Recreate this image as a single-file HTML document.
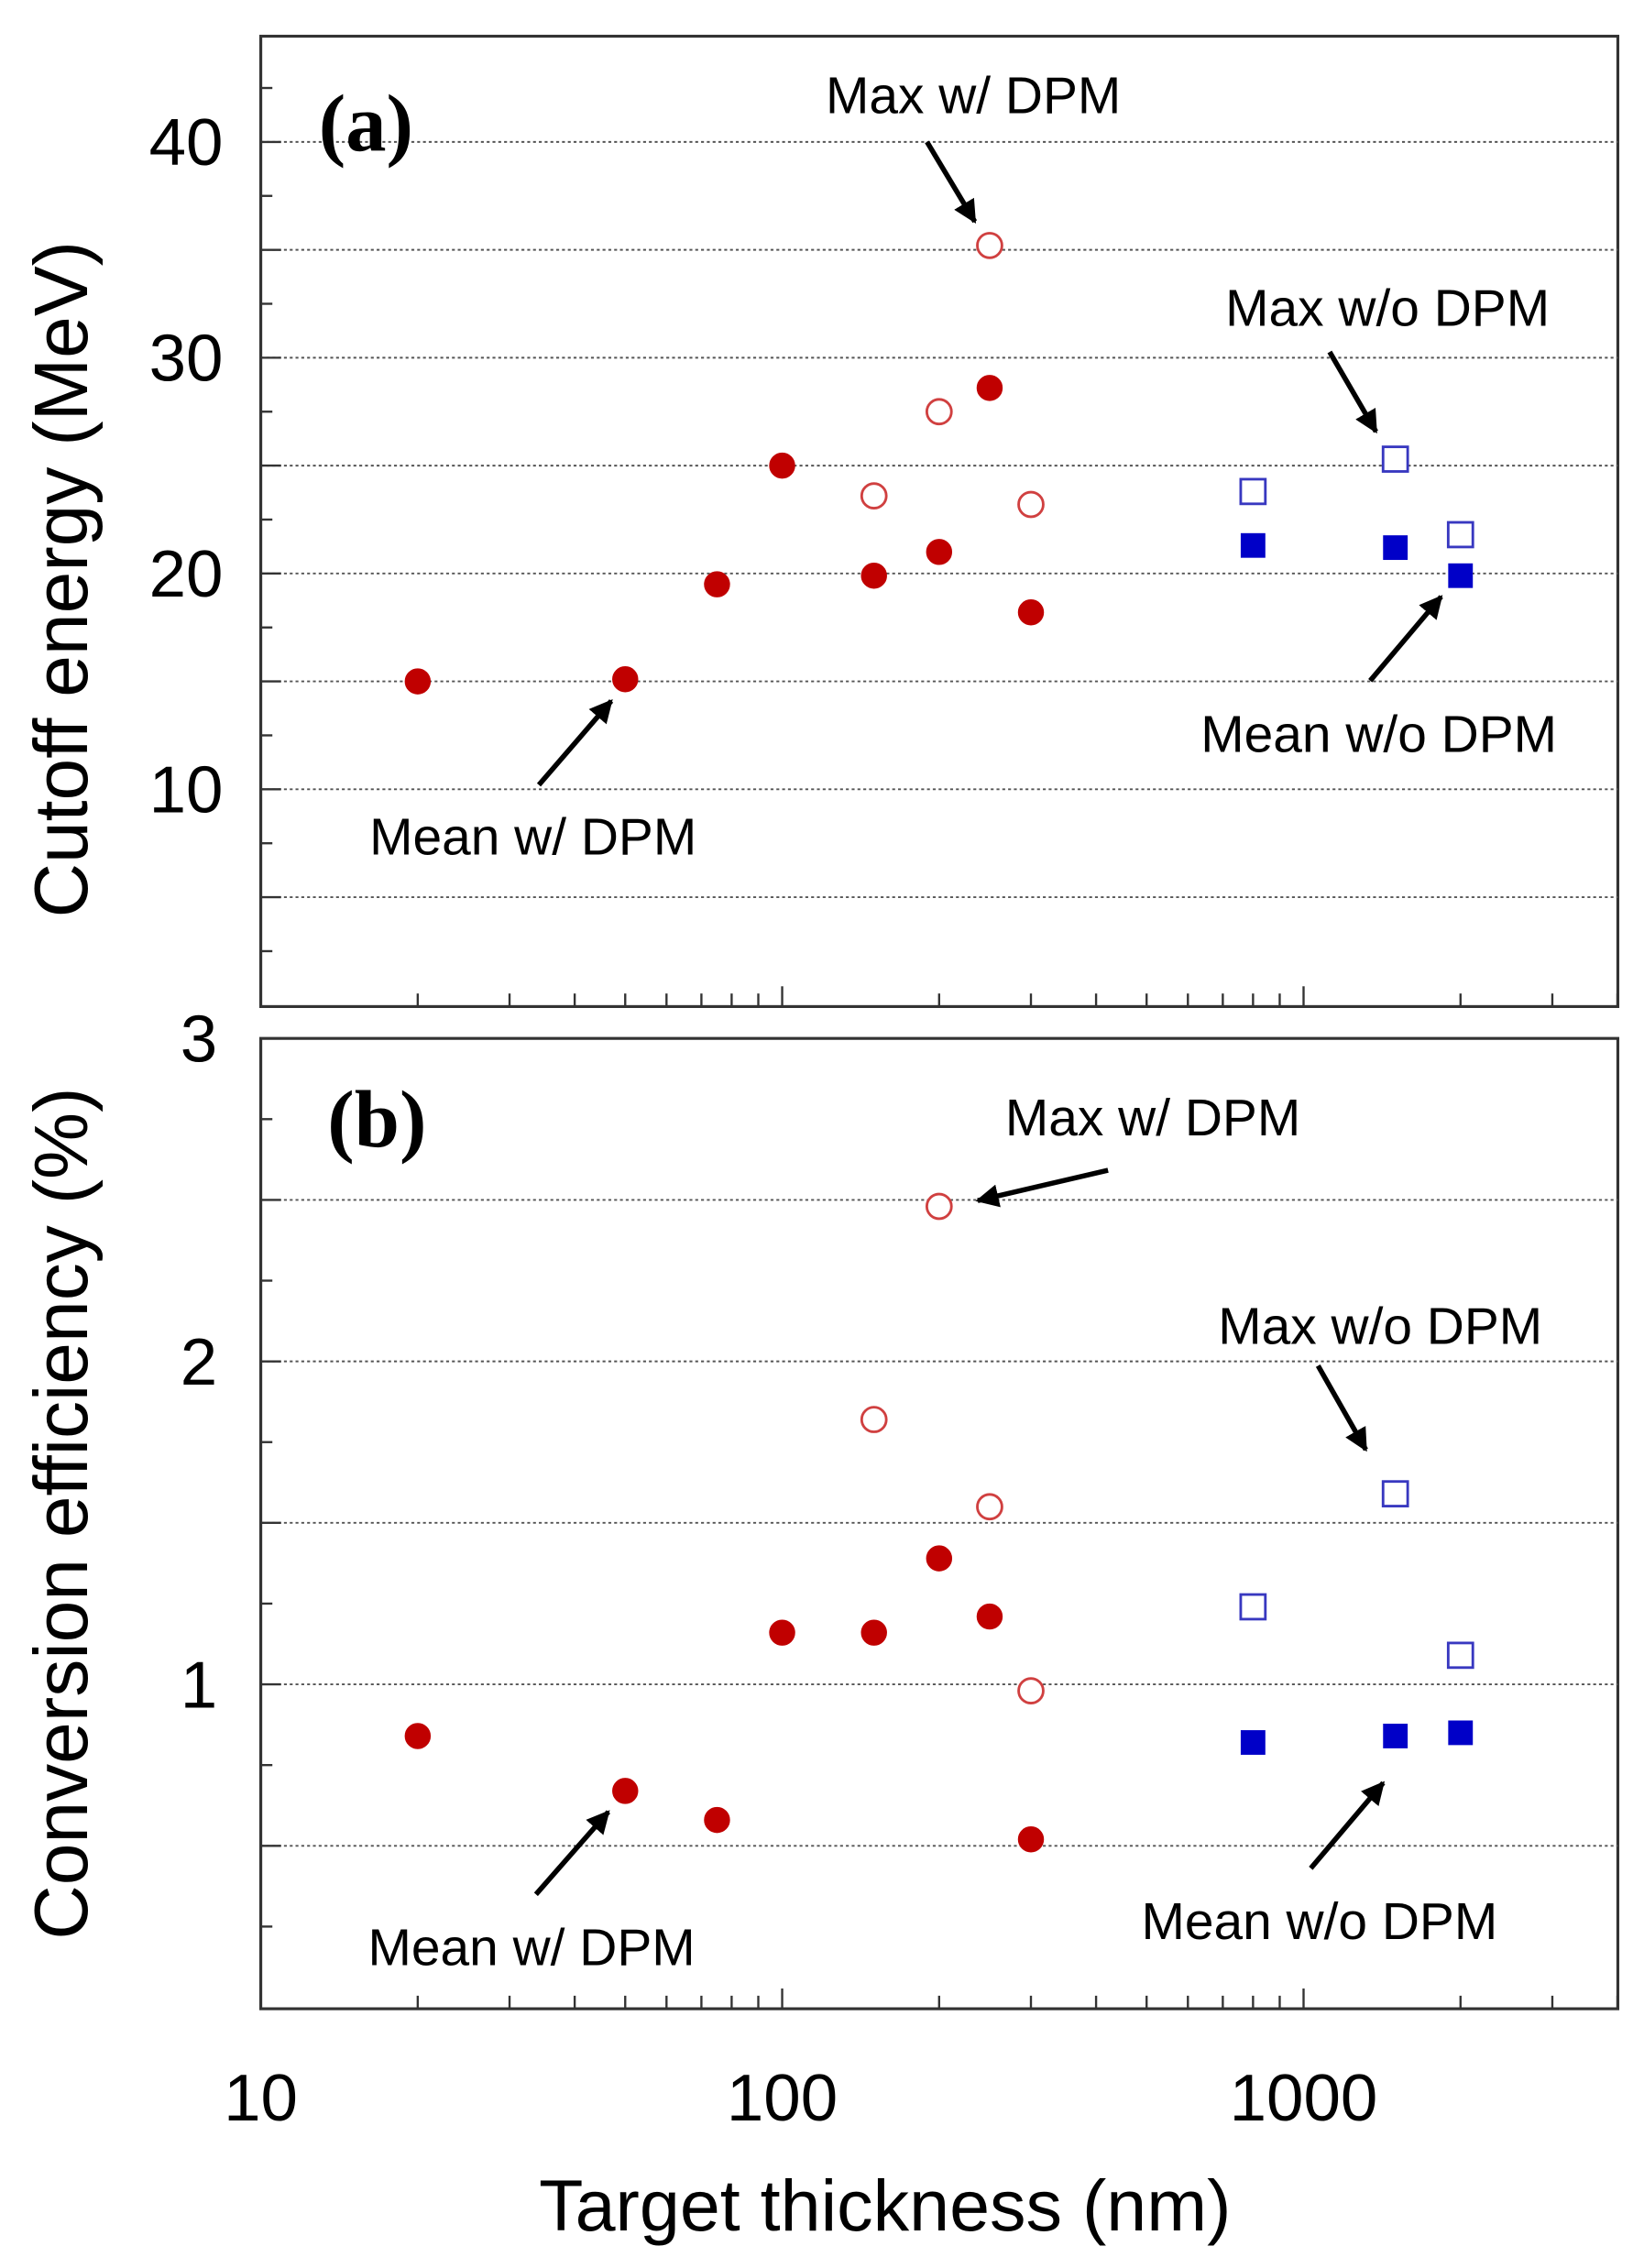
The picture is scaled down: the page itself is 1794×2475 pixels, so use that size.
<!DOCTYPE html>
<html><head><meta charset="utf-8"><style>
html,body{margin:0;padding:0;background:#fff}
svg{display:block}
text{font-family:"Liberation Sans",sans-serif}
</style></head><body>
<svg id="chart" width="1794" height="2475" viewBox="0 0 1135 1566" xmlns="http://www.w3.org/2000/svg">
<defs>
<marker id="ah2" viewBox="0 0 10 10" refX="9" refY="5" markerWidth="16" markerHeight="16" orient="auto" markerUnits="userSpaceOnUse"><path d="M0,0 L10,5 L0,10 Z" fill="#000"/></marker></defs>
<g id="layer"></g>
</svg>
<script>
const thickW = [20,50,75,100,150,200,250,300];
const meanWa = [15,15.1,19.5,25,19.9,21,28.6,18.2];
const maxWThick = [150,200,250,300];
const maxWa = [23.6,27.5,35.2,23.2];
const thickWo = [800,1500,2000];
const meanWoa = [21.3,21.2,19.9];
const maxWoa = [23.8,25.3,21.8];
const meanWb = [0.84,0.67,0.58,1.16,1.16,1.39,1.21,0.52];
const maxWb = [1.82,2.48,1.55,0.98];
const meanWob = [0.82,0.84,0.85];
const maxWob = [1.24,1.59,1.09];
const yTicksA = [10,20,30,40];
const yTicksB = [1,2,3];
const xTicks = [10,100,1000];

const NS="http://www.w3.org/2000/svg";
const L=document.getElementById('layer');
function el(t,a,txt){const e=document.createElementNS(NS,t);for(const k in a)e.setAttribute(k,a[k]);if(txt!==undefined)e.textContent=txt;L.appendChild(e);return e;}
const X0=180,X1=1117;
const xs=v=>180+360*Math.log10(v/10);
const yA=v=>694-v*14.9;
const yB=v=>1386-v*223;

function panel(top,bot,ys,gridVals,minorStep,maxV,name){
  let b=el('rect',{x:X0,y:top,width:X1-X0,height:bot-top,fill:'none',stroke:'#333','stroke-width':2});
  
  
  gridVals.forEach(v=>{const g=el('line',{x1:X0,x2:X1,y1:ys(v),y2:ys(v),stroke:'#555','stroke-width':1.2,'stroke-dasharray':'2,2'});
    
    });
  for(let v=minorStep;v<maxV;v+=minorStep){const y=ys(v);if(y<top||y>bot)continue;
    const major=Math.abs((v/(minorStep*2))-Math.round(v/(minorStep*2)))<1e-6;
    el('line',{x1:X0,x2:X0+(major?14:8),y1:y,y2:y,stroke:'#333','stroke-width':1.5});}
  for(let d=10;d<=1000;d*=10)for(let m=1;m<10;m++){const v=d*m;const x=xs(v);if(x>X1)continue;
    el('line',{x1:x,x2:x,y1:bot,y2:bot-(m==1?14:9),stroke:'#333','stroke-width':1.5});}
}
panel(25,695,yA,[5,10,15,20,25,30,35,40],2.5,46,'panel-a');
panel(717,1387,yB,[0.5,1,1.5,2,2.5],0.25,3.1,'panel-b');

yTicksA.forEach(v=>{const t=el('text',{x:154,y:yA(v)+16,'text-anchor':'end','font-size':46},v);
  
  });
yTicksB.forEach(v=>{const t=el('text',{x:150,y:yB(v)+16,'text-anchor':'end','font-size':46},v);
  
  });
xTicks.forEach(v=>{const t=el('text',{x:xs(v),y:1464,'text-anchor':'middle','font-size':46},v);
  
  });

let t;
t=el('text',{x:611,y:1540,'text-anchor':'middle','font-size':50},'Target thickness (nm)');

t=el('text',{x:0,y:0,'text-anchor':'middle','font-size':52,transform:'translate(60,400) rotate(-90)'},'Cutoff energy (MeV)');

t=el('text',{x:0,y:0,'text-anchor':'middle','font-size':52,transform:'translate(60,1045) rotate(-90)'},'Conversion efficiency (%)');

t=el('text',{x:220,y:104,'font-size':56,'font-weight':'bold',style:'font-family:"Liberation Serif",serif'},'(a)');

t=el('text',{x:226,y:792,'font-size':56,'font-weight':'bold',style:'font-family:"Liberation Serif",serif'},'(b)');


const RED='#c00000',BLUE='#0000c8';
function circles(xv,yv,ys,filled,name){xv.forEach((x,i)=>{const c=el('circle',{cx:xs(x),cy:ys(yv[i]),r:filled?8.5:8.5,fill:filled?RED:'#fff',stroke:filled?RED:'#d04040','stroke-width':filled?1:1.8});
  });}
function squares(xv,yv,ys,filled,name){xv.forEach((x,i)=>{const s=filled?16:17;const r=el('rect',{x:xs(x)-s/2,y:ys(yv[i])-s/2,width:s,height:s,fill:filled?BLUE:'#fff',stroke:filled?BLUE:'#3838c0','stroke-width':filled?1:1.8});
  });}
circles(maxWThick,maxWa,yA,false,'point-max-w-dpm-a');
circles(thickW,meanWa,yA,true,'point-mean-w-dpm-a');
squares(thickWo,maxWoa,yA,false,'point-max-wo-dpm-a');
squares(thickWo,meanWoa,yA,true,'point-mean-wo-dpm-a');
circles(maxWThick,maxWb,yB,false,'point-max-w-dpm-b');
circles(thickW,meanWb,yB,true,'point-mean-w-dpm-b');
squares(thickWo,maxWob,yB,false,'point-max-wo-dpm-b');
squares(thickWo,meanWob,yB,true,'point-mean-wo-dpm-b');

function ann(txt,tx,ty,x1,y1,x2,y2,name){
  const a=el('line',{x1:x1,y1:y1,x2:x2,y2:y2,stroke:'#000','stroke-width':3.5,'marker-end':'url(#ah2)'});
  
  const t=el('text',{x:tx,y:ty,'font-size':36},txt);
  
}
ann('Max w/ DPM',570,78,640,98,673,153,'annotation-max-w-dpm-a');
ann('Max w/o DPM',846,225,918,243,950,298,'annotation-max-wo-dpm-a');
ann('Mean w/o DPM',829,519,946,470,995,412,'annotation-mean-wo-dpm-a');
ann('Mean w/ DPM',255,590,372,542,422,484,'annotation-mean-w-dpm-a');
ann('Max w/ DPM',694,784,765,808,675,829,'annotation-max-w-dpm-b');
ann('Max w/o DPM',841,928,910,943,943,1001,'annotation-max-wo-dpm-b');
ann('Mean w/o DPM',788,1339,905,1290,955,1231,'annotation-mean-wo-dpm-b');
ann('Mean w/ DPM',254,1357,370,1308,420,1251,'annotation-mean-w-dpm-b');
</script>
</body></html>
